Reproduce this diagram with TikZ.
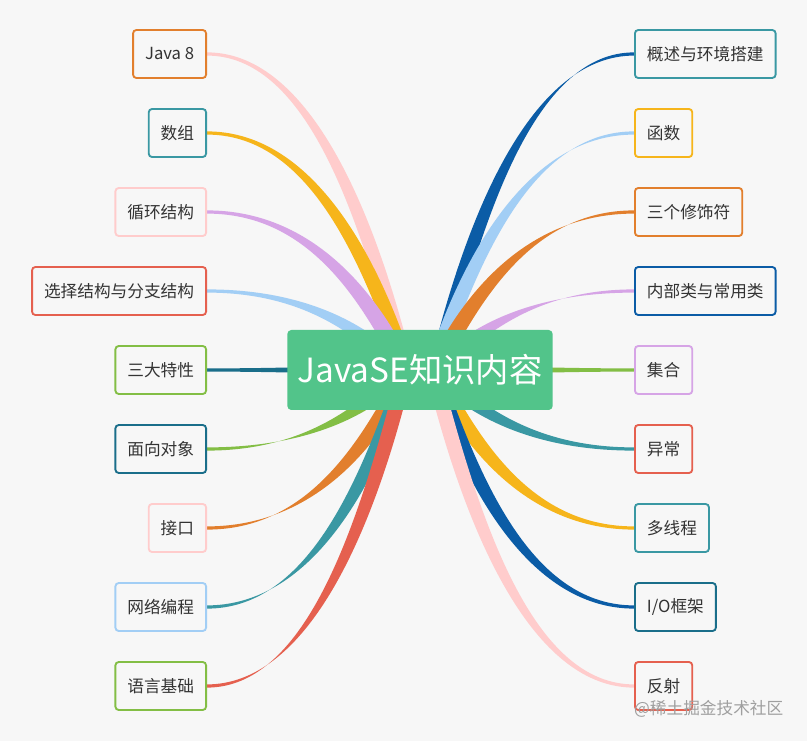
\documentclass[tikz,border=0pt]{standalone}
\usepackage{fontspec}
\newfontfamily\cjk{Noto Sans CJK SC}
\usepackage{tikz}
\usetikzlibrary{calc,backgrounds,positioning}
\definecolor{bgc}{HTML}{F7F7F7}
\definecolor{cpink}{HTML}{FFCCCC}
\definecolor{cyel}{HTML}{F6B51B}
\definecolor{cpur}{HTML}{D6A4E6}
\definecolor{clblue}{HTML}{A2CEF5}
\definecolor{cdteal}{HTML}{1A6E8A}
\definecolor{cgreen}{HTML}{83BE45}
\definecolor{corange}{HTML}{E27F2D}
\definecolor{cteal}{HTML}{3A98A3}
\definecolor{cred}{HTML}{E5604F}
\definecolor{cdblue}{HTML}{0B5CA6}
\definecolor{croot}{HTML}{52C48A}
\tikzset{
  leaf/.style={draw=#1,line width=1.4pt,rounded corners=2.5pt,fill=bgc,
    minimum height=36pt,inner xsep=9pt,font=\cjk\fontsize{12.5}{14}\selectfont,
    text=black!80},
  root/.style={fill=croot,rounded corners=3pt,minimum width=199pt,minimum height=60pt,
    text=white,font=\cjk\fontsize{25}{28}\selectfont}
}
% tapered branch: colour, target node, half width at the root end
\newcommand{\branch}[4]{%
  \fill[#1] let \p1=(#2.west), \p3=(#2.east), \p2=($(root.center)!0.08!(#2.center)$),
    \n1={ifthenelse(\x1>\x2,\x1,\x3)} in
    (\x2-#3,\y2-#4) .. controls (\x2-#3+0.2*\n1-0.2*\x2,\y2-#4+0.5*\y1-0.5*\y2)
      and ({0.5*\n1+0.5*\x2},\y1-1.2pt) .. (\n1,\y1-1.2pt)
    -- (\n1,\y1+1.2pt) .. controls ({0.5*\n1+0.5*\x2},\y1+1.2pt)
      and (\x2+#3+0.2*\n1-0.2*\x2,\y2+#4+0.5*\y1-0.5*\y2) .. (\x2+#3,\y2+#4) -- cycle;}

\begin{document}
\begin{tikzpicture}[x=0.75pt,y=-0.75pt]
  \node[root] (root) at (420,370) {JavaSE知识内容};
  % left side
  \foreach \txt/\bc/\row [count=\i] in {Java 8/corange/54,数组/cteal/133,
      循环结构/cpink/212,选择结构与分支结构/cred/291,三大特性/cgreen/370,
      面向对象/cdteal/449,接口/cpink/528,网络编程/clblue/607,语言基础/cgreen/686}
    \node[leaf=\bc,anchor=east] (L\i) at (207,\row) {\txt};
  % right side
  \foreach \txt/\bc/\row [count=\i] in {概述与环境搭建/cteal/54,函数/cyel/133,
      三个修饰符/corange/212,内部类与常用类/cdblue/291,集合/cpur/370,
      异常/cred/449,多线程/cteal/528,{I/O框架}/cdteal/607,反射/cred/686}
    \node[leaf=\bc,anchor=west] (R\i) at (634,\row) {\txt};
  \node[anchor=east,text=gray!75,font=\cjk\fontsize{12.5}{14}\selectfont] (mark) at (788,709) {@稀土掘金技术社区};
  \begin{scope}[on background layer]
    \fill[bgc] (0,0) rectangle (807,741);
    \branch{cpink}{L1}{4.5pt}{4.5pt}
    \branch{cyel}{L2}{4.5pt}{4.5pt}
    \branch{cpur}{L3}{4.5pt}{4.5pt}
    \branch{clblue}{L4}{3pt}{4.5pt}
    \branch{cdteal}{L5}{0pt}{4pt}
    \branch{cgreen}{L6}{3pt}{-4.5pt}
    \branch{corange}{L7}{4.5pt}{-4.5pt}
    \branch{cteal}{L8}{4.5pt}{-4.5pt}
    \branch{cred}{L9}{4.5pt}{-4.5pt}
    \branch{cdblue}{R1}{4.5pt}{-4.5pt}
    \branch{clblue}{R2}{4.5pt}{-4.5pt}
    \branch{corange}{R3}{4.5pt}{-4.5pt}
    \branch{cpur}{R4}{3pt}{-4.5pt}
    \branch{cgreen}{R5}{0pt}{4pt}
    \branch{cteal}{R6}{3pt}{4.5pt}
    \branch{cyel}{R7}{4.5pt}{4.5pt}
    \branch{cdblue}{R8}{4.5pt}{4.5pt}
    \branch{cpink}{R9}{4.5pt}{4.5pt}
  \end{scope}
\end{tikzpicture}
\end{document}
